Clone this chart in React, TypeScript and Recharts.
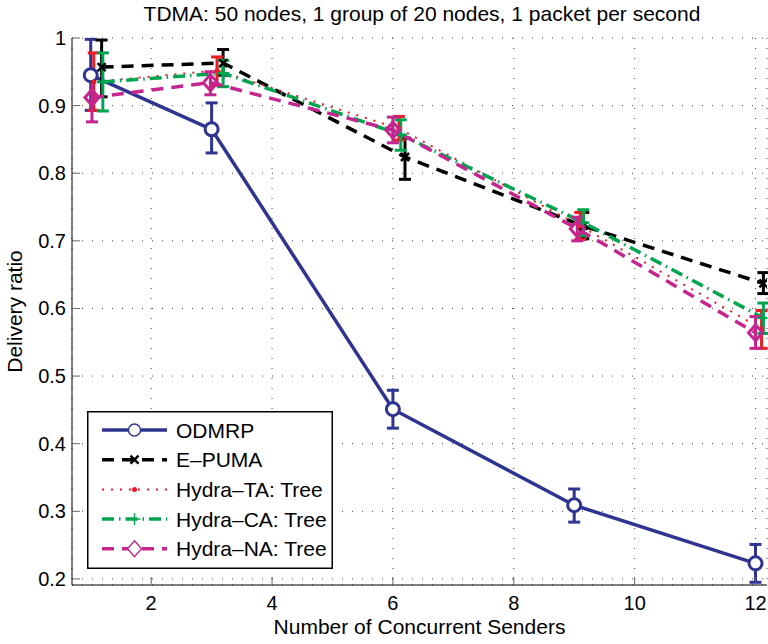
import React from "react";
import {
  LineChart,
  Line,
  XAxis,
  YAxis,
  CartesianGrid,
  ErrorBar,
  Legend,
  Customized,
} from "recharts";

const FONT = '"Liberation Sans", Arial, Helvetica, sans-serif';

const xTicks = [2, 4, 6, 8, 10, 12];
const yTicks = [0.2, 0.3, 0.4, 0.5, 0.6, 0.7, 0.8, 0.9, 1];

// ODMRP
const odmrpX = [1.0, 3.0, 6.0, 9.0, 12.0];
const odmrpY = [0.945, 0.865, 0.451, 0.309, 0.223];
const odmrpLo = [0.893, 0.83, 0.423, 0.284, 0.195];
const odmrpHi = [0.998, 0.904, 0.479, 0.333, 0.251];

// E-PUMA
const epumaX = [1.18, 3.19, 6.2, 9.15, 12.13];
const epumaY = [0.957, 0.963, 0.824, 0.722, 0.637];
const epumaLo = [0.913, 0.945, 0.791, 0.703, 0.622];
const epumaHi = [0.997, 0.983, 0.852, 0.742, 0.653];

// Hydra-TA: Tree
const hydraTaX = [1.05, 3.09, 6.1, 9.1, 12.1];
const hydraTaY = [0.935, 0.952, 0.866, 0.722, 0.57];
const hydraTaLo = [0.893, 0.93, 0.849, 0.702, 0.541];
const hydraTaHi = [0.978, 0.972, 0.884, 0.742, 0.597];

// Hydra-CA: Tree
const hydraCaX = [1.2, 3.19, 6.13, 9.15, 12.13];
const hydraCaY = [0.935, 0.948, 0.857, 0.727, 0.586];
const hydraCaLo = [0.892, 0.928, 0.834, 0.708, 0.563];
const hydraCaHi = [0.978, 0.967, 0.879, 0.746, 0.608];

// Hydra-NA: Tree
const hydraNaX = [1.02, 2.98, 6.0, 9.05, 12.0];
const hydraNaY = [0.912, 0.934, 0.864, 0.718, 0.564];
const hydraNaLo = [0.876, 0.916, 0.845, 0.7, 0.541];
const hydraNaHi = [0.948, 0.95, 0.883, 0.735, 0.588];

type Pt = { x: number; y: number; err: [number, number] };

const build = (xs: number[], ys: number[], lo: number[], hi: number[]): Pt[] =>
  xs.map((x, i) => ({ x, y: ys[i], err: [ys[i] - lo[i], hi[i] - ys[i]] }));

type MarkerKind = "circle" | "cross" | "dot" | "plus" | "diamond";

const Marker = ({
  kind,
  cx,
  cy,
  color,
  thin,
}: {
  kind: MarkerKind;
  cx: number;
  cy: number;
  color: string;
  thin?: boolean;
}) => {
  const sw = thin ? 1.4 : 3;
  if (kind === "circle")
    return <circle cx={cx} cy={cy} r={thin ? 6 : 6.5} fill="#fff" stroke={color} strokeWidth={sw} />;
  if (kind === "cross")
    return (
      <g stroke={color} strokeWidth={2.5}>
        <line x1={cx - 4} y1={cy - 4} x2={cx + 4} y2={cy + 4} />
        <line x1={cx - 4} y1={cy + 4} x2={cx + 4} y2={cy - 4} />
      </g>
    );
  if (kind === "dot") return <circle cx={cx} cy={cy} r={2.5} fill={color} />;
  if (kind === "plus")
    return (
      <g stroke={color} strokeWidth={thin ? 1.4 : 2.5}>
        <line x1={cx - 6} y1={cy} x2={cx + 6} y2={cy} />
        <line x1={cx} y1={cy - 6} x2={cx} y2={cy + 6} />
      </g>
    );
  return (
    <polygon
      points={`${cx},${cy - 8} ${cx + 7},${cy} ${cx},${cy + 8} ${cx - 7},${cy}`}
      fill={thin ? "#fff" : "none"}
      stroke={color}
      strokeWidth={sw}
    />
  );
};

const series = [
  { name: "ODMRP", color: "#2f3491", dash: undefined, width: 3.5, marker: "circle" as MarkerKind, data: build(odmrpX, odmrpY, odmrpLo, odmrpHi) },
  { name: "E\u2013PUMA", color: "#000000", dash: "12 8", width: 3.5, marker: "cross" as MarkerKind, data: build(epumaX, epumaY, epumaLo, epumaHi) },
  { name: "Hydra\u2013TA: Tree", color: "#ec1c24", dash: "2 7", width: 2, marker: "dot" as MarkerKind, data: build(hydraTaX, hydraTaY, hydraTaLo, hydraTaHi) },
  { name: "Hydra\u2013CA: Tree", color: "#00a550", dash: "12 5 1.5 5", width: 3.5, marker: "plus" as MarkerKind, data: build(hydraCaX, hydraCaY, hydraCaLo, hydraCaHi) },
  { name: "Hydra\u2013NA: Tree", color: "#c4258e", dash: "12 8", width: 3.5, marker: "diamond" as MarkerKind, data: build(hydraNaX, hydraNaY, hydraNaLo, hydraNaHi) },
];

const LegendBox = () => (
  <svg width={246} height={158} style={{ display: "block" }}>
    <rect x={0.75} y={0.75} width={244.5} height={156.5} fill="#fff" stroke="#000" strokeWidth={1.5} />
    {series.map((s, i) => {
      const y = 19 + i * 29.7;
      return (
        <g key={s.name}>
          <line x1={15} y1={y} x2={80} y2={y} stroke={s.color} strokeWidth={s.width} strokeDasharray={s.dash} />
          <Marker kind={s.marker} cx={47.5} cy={y} color={s.color} thin />
          <text x={89} y={y + 7.5} fontSize={21} fontFamily={FONT} fill="#000">
            {s.name}
          </text>
        </g>
      );
    })}
  </svg>
);

const Title = () => (
  <text x={422} y={21} textAnchor="middle" fontSize={21} fontFamily={FONT} fill="#000">
    TDMA: 50 nodes, 1 group of 20 nodes, 1 packet per second
  </text>
);

const YLabel = (props: any) => {
  const vb = props.viewBox;
  const cx = vb.x + 11.5;
  const cy = vb.y + vb.height / 2;
  return (
    <text x={cx} y={cy} transform={`rotate(-90, ${cx}, ${cy})`} textAnchor="middle" fontSize={21} fontFamily={FONT} fill="#000">
      Delivery ratio
    </text>
  );
};

// MATLAB-style ticks point into the plot
const YTick = (props: any) => {
  const { x, y, payload } = props;
  const v = payload.value as number;
  return (
    <g>
      <line x1={x + 6} y1={y} x2={x + 14} y2={y} stroke="#666" strokeWidth={1} />
      <text x={x} y={y + 7} textAnchor="end" fontSize={20} fontFamily={FONT} fill="#000">
        {v === 1 ? "1" : v.toFixed(1)}
      </text>
    </g>
  );
};

const XTick = (props: any) => {
  const { x, y, payload } = props;
  return (
    <g>
      <line x1={x} y1={y - 11} x2={x} y2={y - 19} stroke="#666" strokeWidth={1} />
      <text x={x} y={y + 14} textAnchor="middle" fontSize={20} fontFamily={FONT} fill="#000">
        {payload.value}
      </text>
    </g>
  );
};

export default function App() {
  return (
    <div style={{ position: "absolute", left: 0, top: 0, background: "#fff" }}>
      <LineChart width={768} height={644} margin={{ top: 38, right: 1, bottom: 0, left: 10 }}>
        <CartesianGrid stroke="#444" strokeDasharray="1 9" />
        <XAxis
          type="number"
          dataKey="x"
          domain={[0.69, 12.19]}
          ticks={xTicks}
          allowDataOverflow
          height={59}
          tickLine={false}
          tickSize={6}
          tickMargin={5}
          axisLine={{ stroke: "#000", strokeWidth: 1 }}
          tick={<XTick />}
          label={{ value: "Number of Concurrent Senders", position: "insideBottom", offset: 10, fontSize: 21, fontFamily: FONT, fill: "#000" }}
        />
        <YAxis
          type="number"
          domain={[0.191, 1]}
          ticks={yTicks}
          allowDataOverflow
          width={62}
          tickLine={false}
          tickSize={4}
          tickMargin={2}
          axisLine={{ stroke: "#000", strokeWidth: 1 }}
          tick={<YTick />}
          label={YLabel}
        />
        {series.map((s) => (
          <Line
            key={s.name}
            data={s.data}
            dataKey="y"
            name={s.name}
            stroke={s.color}
            strokeWidth={s.width}
            strokeDasharray={s.dash}
            isAnimationActive={false}
            dot={(p: any) => <Marker key={`${s.name}-${p.index}`} kind={s.marker} cx={p.cx} cy={p.cy} color={s.color} />}
            activeDot={false}
          >
            <ErrorBar dataKey="err" direction="y" width={6} stroke={s.color} strokeWidth={3} />
          </Line>
        ))}
        <Legend
          layout="vertical"
          align="center"
          verticalAlign="middle"
          content={() => <LegendBox />}
          wrapperStyle={{ left: 87, top: 411, width: 246, height: 158 }}
        />
        <Customized component={<Title />} />
      </LineChart>
    </div>
  );
}
